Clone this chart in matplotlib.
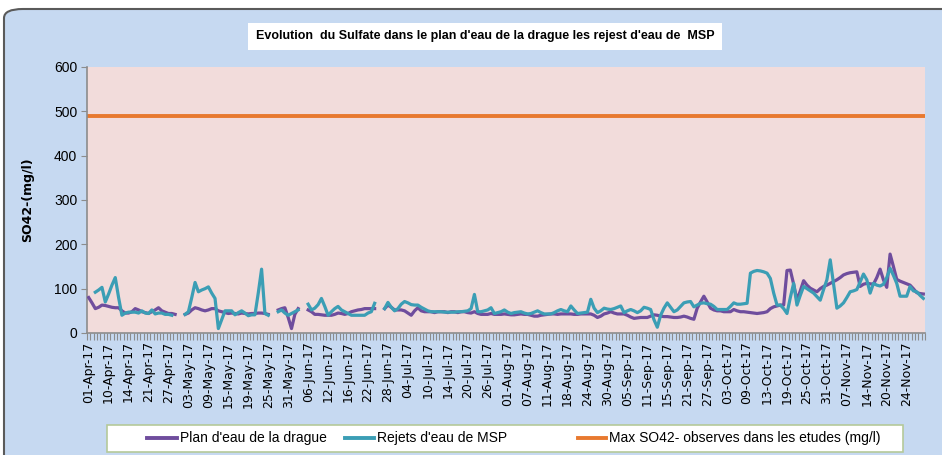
import numpy as np
import matplotlib
matplotlib.use("Agg")
import matplotlib.pyplot as plt
from matplotlib.patches import FancyBboxPatch, Rectangle
from matplotlib.lines import Line2D

plt.rcParams['font.family'] = ['Liberation Sans', 'DejaVu Sans']

# one value per sampling day (category axis), None = no measure
plan_eau = [
    80, 68, 55, 58, 63, 62, 60, 58, 57, 57, 50, 45,
    45, 48, 55, 52, 48, 46, 44, 48, 52, 57, 50, 47,
    44, 44, 42, None, None, 42, 45, 52, 57, 55, 52, 50,
    52, 55, 55, 50, 48, 46, 44, 45, 44, 43, 45, 44,
    43, 44, 44, 45, 45, 44, 42, None, None, 52, 55, 57,
    35, 10, 42, 55, None, None, 52, 48, 42, 42, 41, 40,
    40, 40, 42, 45, 44, 42, 44, 48, 50, 52, 53, 55,
    55, 55, 55, None, None, 55, 63, 58, 52, 52, 52, 50,
    45, 40, 50, 57, 50, 48, 48, 48, 46, 48, 48, 48,
    46, 48, 48, 46, 48, 48, 46, 45, 48, 44, 42, 42,
    42, 44, 42, 42, 42, 43, 42, 41, 41, 42, 43, 42,
    42, 40, 38, 38, 40, 41, 42, 43, 43, 42, 43, 43,
    43, 43, 42, 42, 43, 43, 43, 43, 40, 35, 38, 43,
    45, 48, 45, 43, 43, 43, 40, 36, 33, 34, 35, 35,
    35, 38, 41, 40, 38, 37, 37, 36, 35, 35, 36, 38,
    36, 33, 31, 56, 70, 83, 70, 56, 52, 50, 50, 48,
    48, 48, 53, 50, 48, 48, 47, 46, 45, 44, 45, 46,
    48, 55, 59, 61, 63, 63, 141, 142, 110, 74, 95, 118,
    108, 101, 97, 93, 100, 105, 108, 112, 116, 120, 125, 131,
    134, 136, 137, 138, 105, 110, 112, 111, 110, 125, 144, 120,
    103, 178, 150, 121, 117, 114, 111, 108, 100, 91, 89, 88,
]

rejets_msp = [
    None, None, 92, 97, 103, 70, 88, 108, 125, 80, 40, 45,
    47, 47, 47, 45, 50, 45, 44, 52, 43, 45, 45, 42,
    42, 40, None, None, None, 42, 48, 80, 114, 93, 97, 100,
    104, 90, 78, 10, 30, 50, 50, 50, 41, 46, 50, 45,
    39, 41, 41, 90, 144, 44, 40, None, None, 48, 52, 45,
    40, 44, 48, 52, None, None, 65, 52, 56, 64, 78, 60,
    40, 48, 55, 60, 52, 48, 44, 40, 40, 40, 40, 40,
    45, 48, 67, None, None, 55, 69, 58, 50, 55, 65, 71,
    68, 64, 63, 63, 58, 54, 50, 48, 48, 48, 48, 47,
    47, 47, 47, 48, 48, 49, 50, 55, 87, 48, 48, 50,
    52, 57, 44, 46, 48, 52, 47, 44, 46, 47, 48, 45,
    43, 44, 47, 50, 46, 43, 43, 43, 46, 50, 53, 50,
    48, 61, 52, 44, 45, 46, 47, 76, 56, 46, 50, 56,
    54, 53, 55, 58, 61, 46, 50, 53, 50, 46, 50, 58,
    56, 53, 30, 13, 40, 56, 68, 58, 48, 52, 60, 68,
    70, 71, 59, 63, 67, 68, 66, 65, 60, 53, 53, 53,
    53, 60, 68, 65, 65, 66, 67, 135, 139, 141, 140, 138,
    135, 123, 90, 63, 63, 55, 44, 80, 112, 63, 85, 105,
    100, 95, 90, 82, 74, 98, 120, 165, 110, 56, 61, 68,
    80, 93, 95, 98, 115, 133, 120, 90, 112, 108, 106, 110,
    125, 146, 130, 112, 83, 83, 83, 105, 95, 93, 85, 78,
]

max_etudes = 490

date_labels = [
    "01-Apr-17", "10-Apr-17", "14-Apr-17", "21-Apr-17", "27-Apr-17",
    "03-May-17", "09-May-17", "15-May-17", "19-May-17", "25-May-17",
    "31-May-17", "06-Jun-17", "12-Jun-17", "16-Jun-17", "22-Jun-17",
    "28-Jun-17", "04-Jul-17", "10-Jul-17", "14-Jul-17", "20-Jul-17",
    "26-Jul-17", "01-Aug-17", "07-Aug-17", "11-Aug-17", "18-Aug-17",
    "24-Aug-17", "30-Aug-17", "05-Sep-17", "11-Sep-17", "15-Sep-17",
    "21-Sep-17", "27-Sep-17", "03-Oct-17", "09-Oct-17", "13-Oct-17",
    "19-Oct-17", "25-Oct-17", "31-Oct-17", "07-Nov-17", "14-Nov-17",
    "20-Nov-17", "24-Nov-17",
]
label_step = 6

series_names = ["Plan d'eau de la drague",
                "Rejets d'eau de MSP",
                "Max SO42- observes dans les etudes (mg/l)"]

c_plan = "#6F4D9D"
c_rejet = "#3B9EB5"
c_max = "#E8792F"

n = len(plan_eau)
x = np.arange(n)
y_plan = np.array([np.nan if v is None else v for v in plan_eau], dtype=float)
y_rejet = np.array([np.nan if v is None else v for v in rejets_msp], dtype=float)

W, H = 942, 455
fig = plt.figure(figsize=(W / 100, H / 100), dpi=100)
fig.patch.set_facecolor("white")

# chart area background, Excel style rounded frame
frame = FancyBboxPatch((4 / W, -0.1), 1.05, 1.1 - 9 / H,
                       boxstyle="round,pad=0,rounding_size=0.02",
                       transform=fig.transFigure, facecolor="#C6D9F1",
                       edgecolor="#5A5A5A", linewidth=1.5, zorder=-10)
fig.add_artist(frame)

ax = fig.add_axes([87 / W, 1 - 333 / H, 838 / W, 266 / H])
ax.set_zorder(2)
ax.set_facecolor("#F2DCDB")

ax.plot(x, y_plan, color=c_plan, lw=2.3, solid_joinstyle="round", zorder=3)
ax.plot(x, y_rejet, color=c_rejet, lw=2.3, solid_joinstyle="round", zorder=4)
ax.plot([-0.5, n - 0.5], [max_etudes, max_etudes], color=c_max, lw=2.8, zorder=2)

ax.set_xlim(-0.5, n - 0.5)
ax.set_ylim(0, 600)
ax.set_yticks(range(0, 601, 100))
ax.tick_params(axis="y", labelsize=10, length=4, color="#8C8C8C", pad=3)

ticks = np.arange(0, len(date_labels) * label_step, label_step)
ax.set_xticks(ticks)
ax.set_xticklabels(date_labels, rotation=90, fontsize=9, family="DejaVu Sans")
ax.set_xticks(np.arange(-0.5, n, 1), minor=True)
ax.tick_params(axis="x", which="major", length=0, pad=6)
ax.tick_params(axis="x", which="minor", length=5, color="#8C8C8C", width=0.8)

for s in ["top", "right"]:
    ax.spines[s].set_visible(False)
for s in ["left", "bottom"]:
    ax.spines[s].set_color("#8C8C8C")
    ax.spines[s].set_linewidth(1.2)

ax.set_ylabel("SO42-(mg/l)", fontsize=9, fontweight="bold", family="DejaVu Sans",
              labelpad=14)

fig.text(485 / W, 1 - 36 / H,
         "Evolution  du Sulfate dans le plan d'eau de la drague les rejest d'eau de  MSP",
         ha="center", va="center", fontsize=9, fontweight="bold", zorder=5,
         bbox=dict(boxstyle="square,pad=0.6", facecolor="white", edgecolor="none"))

# legend box drawn by hand to match Excel spacing
fig.add_artist(Rectangle((107 / W, 1 - 452 / H), 796 / W, 27 / H,
                         transform=fig.transFigure, facecolor="white",
                         edgecolor="#B5C99A", linewidth=1.2, zorder=3))
leg_y = 1 - 438 / H
for (x0, x1), name, col in zip([(147, 177), (345, 374), (578, 606)],
                               series_names, [c_plan, c_rejet, c_max]):
    fig.add_artist(Line2D([x0 / W, x1 / W], [leg_y, leg_y], color=col, lw=2.8,
                          transform=fig.transFigure, zorder=4))
    fig.text((x1 + 3) / W, leg_y, name, ha="left", va="center", fontsize=10, zorder=4)

fig.savefig("out.png", dpi=100)
